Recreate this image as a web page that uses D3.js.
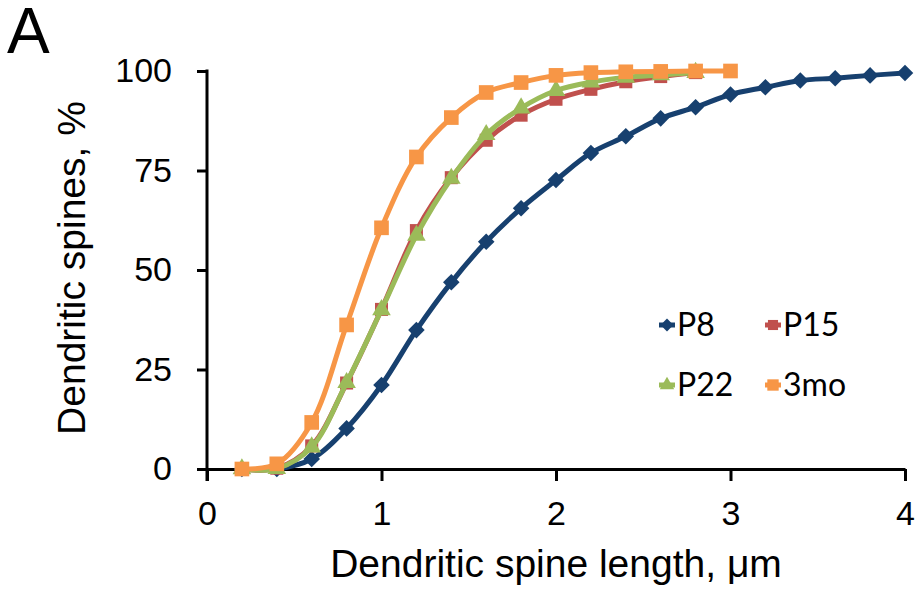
<!DOCTYPE html>
<html>
<head>
<meta charset="utf-8">
<script src="https://cdn.jsdelivr.net/npm/d3@7"></script>
<style>
  body { margin: 0; background: #fff; }
  svg { display: block; }
  .tick text, .label { font-family: "Liberation Sans", Arial, sans-serif; fill: #000; }
  .legend text { font-family: Lato, "Open Sans", sans-serif; fill: #000; }
</style>
</head>
<body>
<svg width="922" height="590"></svg>
<script>
// spine length bins, um
const lengths = [0.2, 0.4, 0.6, 0.8, 1.0, 1.2, 1.4, 1.6, 1.8, 2.0,
                 2.2, 2.4, 2.6, 2.8, 3.0, 3.2, 3.4, 3.6, 3.8, 4.0];

// cumulative % of spines per age
const p8  = [0, 0, 2.5, 10.2, 21.1, 34.9, 46.9, 57.1, 65.5, 72.6,
             79.4, 83.6, 88.1, 90.9, 94.1, 95.9, 97.6, 98.2, 98.9, 99.5];
const p15 = [0, 0.2, 5.8, 21.6, 40.1, 59.9, 73.2, 82.6, 88.9, 92.9,
             95.4, 97.3, 98.6, 99.6];
const p22 = [0, 0.1, 5.5, 21.7, 40.0, 58.7, 73.0, 84.0, 90.7, 95.1,
             97.2, 98.4, 99.0, 99.6];
const mo3 = [0, 1.3, 11.7, 36.2, 60.6, 78.4, 88.3, 94.6, 97.1, 98.9,
             99.6, 99.8, 99.9, 100, 100];

const xTicks = [0, 1, 2, 3, 4];
const yTicks = [0, 25, 50, 75, 100];

const series = [
  { name: "P8",  values: p8,  color: "#17406f", symbol: d3.symbolDiamond2, size: 175 },
  { name: "P15", values: p15, color: "#c0504d", symbol: d3.symbolSquare,   size: 170 },
  { name: "P22", values: p22, color: "#9bbb59", symbol: d3.symbolTriangle, size: 150 },
  { name: "3mo", values: mo3, color: "#f79646", symbol: d3.symbolSquare,   size: 215 }
];

const svg = d3.select("svg");

const x = d3.scaleLinear().domain([0, 4]).range([207, 905]);
const y = d3.scaleLinear().domain([0, 100]).range([469, 71]);

// axes
const yAxis = svg.append("g")
  .attr("transform", "translate(" + x(0) + ",0)")
  .call(d3.axisLeft(y).tickValues(yTicks).tickFormat(d3.format("d"))
    .tickSize(10).tickPadding(25).tickSizeOuter(0));

const xAxis = svg.append("g")
  .attr("transform", "translate(0," + y(0) + ")")
  .call(d3.axisBottom(x).tickValues(xTicks).tickFormat(d3.format("d"))
    .tickSize(12).tickPadding(20).tickSizeOuter(0));

[xAxis, yAxis].forEach(g => {
  g.select(".domain").attr("stroke", "#000").attr("stroke-width", 3);
  g.selectAll(".tick line").attr("stroke", "#000").attr("stroke-width", 3);
  g.selectAll(".tick text").style("font-size", "34px");
});

// extend the y axis a little below the x axis so the origin tick forms a cross
yAxis.select(".domain").attr("d", "M0," + (y(0) + 12) + "V" + (y(100) - 1.5));

// lines and markers
const line = d3.line()
  .x((d, i) => x(lengths[i]))
  .y(d => y(d))
  .curve(d3.curveCatmullRom.alpha(0.5));

series.forEach(s => {
  svg.append("path")
    .datum(s.values)
    .attr("fill", "none")
    .attr("stroke", s.color)
    .attr("stroke-width", 5)
    .attr("d", line);

  svg.append("g")
    .selectAll("path")
    .data(s.values)
    .enter()
    .append("path")
    .attr("transform", (d, i) => "translate(" + x(lengths[i]) + "," + y(d) + ")")
    .attr("d", d3.symbol().type(s.symbol).size(s.size))
    .attr("fill", s.color);
});

// legend
const legend = svg.append("g").attr("class", "legend");
const legendPos = [[667, 325], [773, 325], [667, 385], [773, 385]];

series.forEach((s, i) => {
  const g = legend.append("g")
    .attr("transform", "translate(" + legendPos[i][0] + "," + legendPos[i][1] + ")");
  g.append("line")
    .attr("x1", -8).attr("x2", 8)
    .attr("stroke", s.color).attr("stroke-width", 5);
  g.append("path")
    .attr("d", d3.symbol().type(s.symbol).size(s.size * 0.6))
    .attr("fill", s.color);
  g.append("text")
    .attr("x", 10)
    .attr("dy", "0.35em")
    .style("font-size", "32px")
    .text(s.name);
});

// axis titles
svg.append("text")
  .attr("class", "label")
  .attr("x", x(2))
  .attr("y", 577)
  .attr("text-anchor", "middle")
  .style("font-size", "39px")
  .text("Dendritic spine length, μm");

svg.append("text")
  .attr("class", "label")
  .attr("transform", "translate(85,268) rotate(-90)")
  .attr("text-anchor", "middle")
  .style("font-size", "39px")
  .text("Dendritic spines, %");

svg.append("text")
  .attr("class", "label")
  .attr("x", 7)
  .attr("y", 53)
  .style("font-size", "64px")
  .text("A");
</script>
</body>
</html>
